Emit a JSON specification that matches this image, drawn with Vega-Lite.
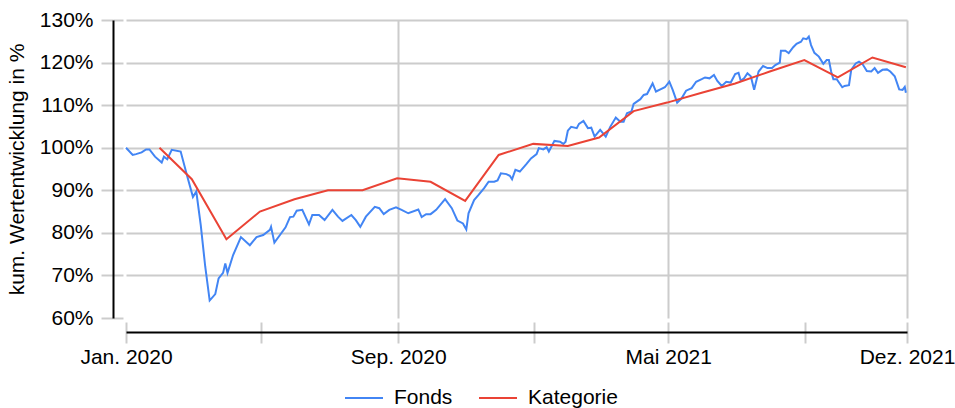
{
"$schema": "https://vega.github.io/schema/vega-lite/v6.json",
"width": 781, "height": 298,
"autosize": {"type": "none"},
"padding": {"left": 126, "top": 20, "right": 48, "bottom": 90},
"background": "white",
"config": {"view": {"stroke": null}, "font": "Liberation Sans", "axis": {"labelFont": "Liberation Sans", "titleFont": "Liberation Sans"}, "legend": {"labelFont": "Liberation Sans"}},
"data": {"values": [
{"series":"Fonds","date":"2020-01-01","value":100.0},
{"series":"Fonds","date":"2020-01-07","value":98.3},
{"series":"Fonds","date":"2020-01-10","value":98.5},
{"series":"Fonds","date":"2020-01-15","value":98.9},
{"series":"Fonds","date":"2020-01-19","value":99.6},
{"series":"Fonds","date":"2020-01-22","value":99.6},
{"series":"Fonds","date":"2020-01-27","value":97.9},
{"series":"Fonds","date":"2020-02-02","value":96.5},
{"series":"Fonds","date":"2020-02-04","value":97.9},
{"series":"Fonds","date":"2020-02-07","value":97.3},
{"series":"Fonds","date":"2020-02-11","value":99.5},
{"series":"Fonds","date":"2020-02-19","value":99.1},
{"series":"Fonds","date":"2020-02-25","value":93.2},
{"series":"Fonds","date":"2020-03-01","value":88.4},
{"series":"Fonds","date":"2020-03-04","value":89.7},
{"series":"Fonds","date":"2020-03-08","value":81.8},
{"series":"Fonds","date":"2020-03-12","value":72.1},
{"series":"Fonds","date":"2020-03-16","value":64.1},
{"series":"Fonds","date":"2020-03-21","value":65.6},
{"series":"Fonds","date":"2020-03-24","value":69.3},
{"series":"Fonds","date":"2020-03-28","value":70.6},
{"series":"Fonds","date":"2020-03-30","value":72.8},
{"series":"Fonds","date":"2020-04-01","value":70.6},
{"series":"Fonds","date":"2020-04-06","value":74.8},
{"series":"Fonds","date":"2020-04-13","value":79.0},
{"series":"Fonds","date":"2020-04-21","value":77.1},
{"series":"Fonds","date":"2020-04-27","value":79.0},
{"series":"Fonds","date":"2020-05-03","value":79.5},
{"series":"Fonds","date":"2020-05-09","value":80.7},
{"series":"Fonds","date":"2020-05-10","value":81.4},
{"series":"Fonds","date":"2020-05-13","value":77.7},
{"series":"Fonds","date":"2020-05-18","value":79.5},
{"series":"Fonds","date":"2020-05-23","value":81.3},
{"series":"Fonds","date":"2020-05-27","value":83.7},
{"series":"Fonds","date":"2020-05-30","value":83.8},
{"series":"Fonds","date":"2020-06-02","value":85.2},
{"series":"Fonds","date":"2020-06-07","value":85.4},
{"series":"Fonds","date":"2020-06-13","value":82.0},
{"series":"Fonds","date":"2020-06-16","value":84.2},
{"series":"Fonds","date":"2020-06-22","value":84.2},
{"series":"Fonds","date":"2020-06-27","value":83.0},
{"series":"Fonds","date":"2020-07-04","value":85.4},
{"series":"Fonds","date":"2020-07-09","value":83.8},
{"series":"Fonds","date":"2020-07-13","value":82.8},
{"series":"Fonds","date":"2020-07-21","value":84.2},
{"series":"Fonds","date":"2020-07-25","value":83.0},
{"series":"Fonds","date":"2020-07-29","value":81.4},
{"series":"Fonds","date":"2020-08-03","value":83.8},
{"series":"Fonds","date":"2020-08-11","value":86.1},
{"series":"Fonds","date":"2020-08-15","value":85.8},
{"series":"Fonds","date":"2020-08-19","value":84.4},
{"series":"Fonds","date":"2020-08-24","value":85.4},
{"series":"Fonds","date":"2020-08-30","value":86.0},
{"series":"Fonds","date":"2020-09-04","value":85.4},
{"series":"Fonds","date":"2020-09-10","value":84.6},
{"series":"Fonds","date":"2020-09-19","value":85.5},
{"series":"Fonds","date":"2020-09-22","value":83.7},
{"series":"Fonds","date":"2020-09-26","value":84.4},
{"series":"Fonds","date":"2020-09-30","value":84.4},
{"series":"Fonds","date":"2020-10-05","value":85.4},
{"series":"Fonds","date":"2020-10-13","value":87.9},
{"series":"Fonds","date":"2020-10-19","value":85.8},
{"series":"Fonds","date":"2020-10-24","value":82.9},
{"series":"Fonds","date":"2020-10-29","value":82.2},
{"series":"Fonds","date":"2020-11-01","value":80.8},
{"series":"Fonds","date":"2020-11-03","value":84.6},
{"series":"Fonds","date":"2020-11-08","value":87.7},
{"series":"Fonds","date":"2020-11-12","value":88.9},
{"series":"Fonds","date":"2020-11-17","value":90.5},
{"series":"Fonds","date":"2020-11-21","value":92.0},
{"series":"Fonds","date":"2020-11-26","value":92.0},
{"series":"Fonds","date":"2020-11-29","value":92.3},
{"series":"Fonds","date":"2020-12-02","value":94.0},
{"series":"Fonds","date":"2020-12-07","value":93.8},
{"series":"Fonds","date":"2020-12-10","value":93.4},
{"series":"Fonds","date":"2020-12-12","value":92.6},
{"series":"Fonds","date":"2020-12-15","value":94.8},
{"series":"Fonds","date":"2020-12-19","value":94.4},
{"series":"Fonds","date":"2020-12-25","value":96.2},
{"series":"Fonds","date":"2020-12-29","value":97.5},
{"series":"Fonds","date":"2021-01-03","value":98.5},
{"series":"Fonds","date":"2021-01-05","value":99.9},
{"series":"Fonds","date":"2021-01-09","value":99.6},
{"series":"Fonds","date":"2021-01-12","value":100.1},
{"series":"Fonds","date":"2021-01-14","value":99.1},
{"series":"Fonds","date":"2021-01-19","value":101.6},
{"series":"Fonds","date":"2021-01-24","value":101.4},
{"series":"Fonds","date":"2021-01-27","value":100.9},
{"series":"Fonds","date":"2021-01-29","value":101.4},
{"series":"Fonds","date":"2021-01-31","value":104.0},
{"series":"Fonds","date":"2021-02-03","value":104.9},
{"series":"Fonds","date":"2021-02-08","value":104.6},
{"series":"Fonds","date":"2021-02-10","value":105.6},
{"series":"Fonds","date":"2021-02-14","value":106.3},
{"series":"Fonds","date":"2021-02-18","value":104.6},
{"series":"Fonds","date":"2021-02-21","value":104.7},
{"series":"Fonds","date":"2021-02-24","value":102.6},
{"series":"Fonds","date":"2021-03-01","value":104.2},
{"series":"Fonds","date":"2021-03-06","value":102.6},
{"series":"Fonds","date":"2021-03-10","value":104.9},
{"series":"Fonds","date":"2021-03-15","value":107.1},
{"series":"Fonds","date":"2021-03-19","value":106.1},
{"series":"Fonds","date":"2021-03-22","value":106.1},
{"series":"Fonds","date":"2021-03-25","value":108.1},
{"series":"Fonds","date":"2021-03-29","value":108.5},
{"series":"Fonds","date":"2021-03-31","value":110.3},
{"series":"Fonds","date":"2021-04-06","value":111.4},
{"series":"Fonds","date":"2021-04-09","value":112.4},
{"series":"Fonds","date":"2021-04-12","value":112.6},
{"series":"Fonds","date":"2021-04-17","value":115.1},
{"series":"Fonds","date":"2021-04-20","value":113.2},
{"series":"Fonds","date":"2021-04-24","value":113.7},
{"series":"Fonds","date":"2021-04-28","value":114.2},
{"series":"Fonds","date":"2021-05-02","value":115.5},
{"series":"Fonds","date":"2021-05-05","value":113.6},
{"series":"Fonds","date":"2021-05-09","value":110.6},
{"series":"Fonds","date":"2021-05-13","value":111.6},
{"series":"Fonds","date":"2021-05-17","value":113.4},
{"series":"Fonds","date":"2021-05-22","value":114.0},
{"series":"Fonds","date":"2021-05-26","value":115.5},
{"series":"Fonds","date":"2021-05-31","value":116.1},
{"series":"Fonds","date":"2021-06-03","value":116.5},
{"series":"Fonds","date":"2021-06-07","value":116.3},
{"series":"Fonds","date":"2021-06-11","value":117.1},
{"series":"Fonds","date":"2021-06-14","value":115.7},
{"series":"Fonds","date":"2021-06-18","value":114.5},
{"series":"Fonds","date":"2021-06-22","value":115.5},
{"series":"Fonds","date":"2021-06-26","value":115.3},
{"series":"Fonds","date":"2021-06-30","value":117.3},
{"series":"Fonds","date":"2021-07-03","value":117.6},
{"series":"Fonds","date":"2021-07-05","value":115.7},
{"series":"Fonds","date":"2021-07-08","value":116.3},
{"series":"Fonds","date":"2021-07-11","value":117.5},
{"series":"Fonds","date":"2021-07-14","value":116.8},
{"series":"Fonds","date":"2021-07-17","value":113.6},
{"series":"Fonds","date":"2021-07-21","value":117.9},
{"series":"Fonds","date":"2021-07-25","value":119.2},
{"series":"Fonds","date":"2021-07-29","value":118.7},
{"series":"Fonds","date":"2021-08-02","value":118.7},
{"series":"Fonds","date":"2021-08-05","value":119.4},
{"series":"Fonds","date":"2021-08-09","value":120.0},
{"series":"Fonds","date":"2021-08-10","value":122.8},
{"series":"Fonds","date":"2021-08-14","value":122.8},
{"series":"Fonds","date":"2021-08-17","value":122.2},
{"series":"Fonds","date":"2021-08-21","value":123.6},
{"series":"Fonds","date":"2021-08-24","value":124.4},
{"series":"Fonds","date":"2021-08-28","value":124.9},
{"series":"Fonds","date":"2021-08-30","value":125.7},
{"series":"Fonds","date":"2021-09-02","value":125.5},
{"series":"Fonds","date":"2021-09-04","value":126.1},
{"series":"Fonds","date":"2021-09-06","value":124.1},
{"series":"Fonds","date":"2021-09-09","value":122.3},
{"series":"Fonds","date":"2021-09-13","value":121.4},
{"series":"Fonds","date":"2021-09-17","value":119.7},
{"series":"Fonds","date":"2021-09-20","value":120.6},
{"series":"Fonds","date":"2021-09-22","value":120.6},
{"series":"Fonds","date":"2021-09-24","value":117.9},
{"series":"Fonds","date":"2021-09-26","value":116.1},
{"series":"Fonds","date":"2021-09-29","value":116.1},
{"series":"Fonds","date":"2021-10-04","value":114.2},
{"series":"Fonds","date":"2021-10-06","value":114.5},
{"series":"Fonds","date":"2021-10-10","value":114.7},
{"series":"Fonds","date":"2021-10-12","value":118.3},
{"series":"Fonds","date":"2021-10-16","value":119.8},
{"series":"Fonds","date":"2021-10-19","value":120.2},
{"series":"Fonds","date":"2021-10-22","value":119.7},
{"series":"Fonds","date":"2021-10-26","value":118.0},
{"series":"Fonds","date":"2021-10-30","value":117.9},
{"series":"Fonds","date":"2021-11-02","value":118.7},
{"series":"Fonds","date":"2021-11-05","value":117.6},
{"series":"Fonds","date":"2021-11-09","value":118.3},
{"series":"Fonds","date":"2021-11-13","value":118.4},
{"series":"Fonds","date":"2021-11-16","value":117.9},
{"series":"Fonds","date":"2021-11-20","value":116.8},
{"series":"Fonds","date":"2021-11-24","value":113.7},
{"series":"Fonds","date":"2021-11-27","value":113.6},
{"series":"Fonds","date":"2021-11-29","value":114.3},
{"series":"Fonds","date":"2021-11-30","value":112.9},
{"series":"Kategorie","date":"2020-01-31","value":100.0},
{"series":"Kategorie","date":"2020-02-29","value":92.6},
{"series":"Kategorie","date":"2020-03-31","value":78.5},
{"series":"Kategorie","date":"2020-04-30","value":85.0},
{"series":"Kategorie","date":"2020-05-31","value":87.9},
{"series":"Kategorie","date":"2020-06-30","value":90.0},
{"series":"Kategorie","date":"2020-07-31","value":90.0},
{"series":"Kategorie","date":"2020-08-31","value":92.8},
{"series":"Kategorie","date":"2020-09-30","value":92.0},
{"series":"Kategorie","date":"2020-10-31","value":87.5},
{"series":"Kategorie","date":"2020-11-30","value":98.3},
{"series":"Kategorie","date":"2020-12-31","value":100.9},
{"series":"Kategorie","date":"2021-01-31","value":100.4},
{"series":"Kategorie","date":"2021-02-28","value":102.4},
{"series":"Kategorie","date":"2021-03-31","value":108.6},
{"series":"Kategorie","date":"2021-04-30","value":110.6},
{"series":"Kategorie","date":"2021-05-31","value":112.9},
{"series":"Kategorie","date":"2021-06-30","value":115.1},
{"series":"Kategorie","date":"2021-07-31","value":117.9},
{"series":"Kategorie","date":"2021-08-31","value":120.6},
{"series":"Kategorie","date":"2021-09-30","value":116.5},
{"series":"Kategorie","date":"2021-10-31","value":121.2},
{"series":"Kategorie","date":"2021-11-30","value":118.9}
]},
"layer": [
{
"mark": {"type": "point", "opacity": 0},
"encoding": {
"x": {"field": "date", "type": "temporal",
"scale": {"type": "utc", "domain": [{"year": 2020, "month": 1, "date": 1, "utc": true}, {"year": 2021, "month": 12, "date": 1, "utc": true}], "nice": false},
"axis": {"orient": "bottom", "values": [{"year": 2020, "month": 9, "date": 1, "utc": true}, {"year": 2021, "month": 5, "date": 1, "utc": true}, {"year": 2021, "month": 12, "date": 1, "utc": true}],
"grid": true, "gridColor": "#cccccc", "gridWidth": 2, "domain": false, "ticks": false, "labels": false, "title": null}},
"y": {"field": "value", "type": "quantitative",
"scale": {"domain": [60, 130], "nice": false, "zero": false},
"axis": {"orient": "left", "values": [70, 80, 90, 100, 110, 120, 130],
"grid": true, "gridColor": "#cccccc", "gridWidth": 2, "domain": false, "ticks": false, "labels": false, "title": null}}
}
},
{
"mark": {"type": "point", "opacity": 0},
"encoding": {
"x": {"field": "date", "type": "temporal",
"scale": {"type": "utc", "domain": [{"year": 2020, "month": 1, "date": 1, "utc": true}, {"year": 2021, "month": 12, "date": 1, "utc": true}], "nice": false},
"axis": {"orient": "bottom", "offset": 14, "values": [{"year": 2020, "month": 1, "date": 1, "utc": true}, {"year": 2020, "month": 5, "date": 1, "utc": true}, {"year": 2020, "month": 9, "date": 1, "utc": true}, {"year": 2021, "month": 1, "date": 1, "utc": true}, {"year": 2021, "month": 5, "date": 1, "utc": true}, {"year": 2021, "month": 9, "date": 1, "utc": true}, {"year": 2021, "month": 12, "date": 1, "utc": true}],
"grid": false, "domain": false, "ticks": true, "tickSize": -10, "tickColor": "#cccccc", "tickWidth": 2, "labels": false, "title": null}},
"y": {"field": "value", "type": "quantitative",
"scale": {"domain": [60, 130], "nice": false, "zero": false},
"axis": {"orient": "left", "offset": 13, "values": [60, 70, 80, 90, 100, 110, 120, 130],
"grid": false, "domain": false, "ticks": true, "tickSize": -10, "tickColor": "#cccccc", "tickWidth": 2, "labels": false, "title": null}}
}
},
{
"mark": {"type": "line", "strokeWidth": 2},
"encoding": {
"x": {"field": "date", "type": "temporal",
"scale": {"type": "utc", "domain": [{"year": 2020, "month": 1, "date": 1, "utc": true}, {"year": 2021, "month": 12, "date": 1, "utc": true}], "nice": false},
"axis": {"orient": "bottom", "offset": 14, "values": [{"year": 2020, "month": 1, "date": 1, "utc": true}, {"year": 2020, "month": 5, "date": 1, "utc": true}, {"year": 2020, "month": 9, "date": 1, "utc": true}, {"year": 2021, "month": 1, "date": 1, "utc": true}, {"year": 2021, "month": 5, "date": 1, "utc": true}, {"year": 2021, "month": 9, "date": 1, "utc": true}, {"year": 2021, "month": 12, "date": 1, "utc": true}],
"labelExpr": "utcFormat(datum.value, '%Y-%m') == '2020-01' ? 'Jan. 2020' : utcFormat(datum.value, '%Y-%m') == '2020-09' ? 'Sep. 2020' : utcFormat(datum.value, '%Y-%m') == '2021-05' ? 'Mai 2021' : utcFormat(datum.value, '%Y-%m') == '2021-12' ? 'Dez. 2021' : ''",
"grid": false, "domain": true, "domainColor": "#000000", "domainWidth": 2, "ticks": true, "tickSize": 11, "tickColor": "#cccccc", "tickWidth": 2,
"labelFontSize": 21, "labelColor": "#000000", "labelPadding": 3, "labelFlush": false, "labelOverlap": false, "labelBound": false, "title": null}},
"y": {"field": "value", "type": "quantitative",
"scale": {"domain": [60, 130], "nice": false, "zero": false},
"axis": {"orient": "left", "offset": 13, "values": [60, 70, 80, 90, 100, 110, 120, 130],
"labelExpr": "datum.value + '%'",
"grid": false, "domain": true, "domainColor": "#000000", "domainWidth": 2, "ticks": true, "tickSize": 12, "tickColor": "#cccccc", "tickWidth": 2,
"labelFontSize": 21, "labelColor": "#000000", "labelPadding": 8, "labelFlush": false, "labelOverlap": false,
"title": "kum. Wertentwicklung in %", "titleFontSize": 21, "titleFontWeight": "normal", "titleColor": "#000000", "titlePadding": 12}},
"color": {"field": "series", "type": "nominal",
"scale": {"domain": ["Fonds", "Kategorie"], "range": ["#4285F4", "#EA4335"]},
"legend": {"orient": "none", "legendX": 218, "legendY": 358, "direction": "horizontal", "title": null, "padding": 0,
"symbolType": "stroke", "symbolSize": 1444, "symbolStrokeWidth": 2, "labelFontSize": 21, "labelColor": "#000000", "labelOffset": 10, "columnPadding": 22}}
}
}
],
"resolve": {"axis": {"x": "independent", "y": "independent"}}
}
